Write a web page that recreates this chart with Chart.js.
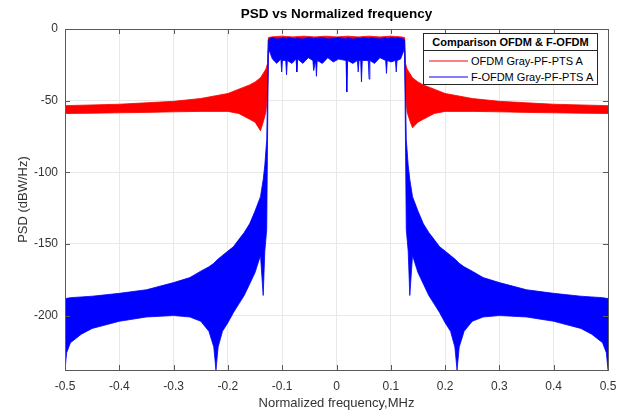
<!DOCTYPE html>
<html><head><meta charset="utf-8">
<script src="https://cdn.jsdelivr.net/npm/chart.js@4"></script>
<style>
body{margin:0;background:#fff;}
#wrap{position:relative;width:627px;height:415px;font-family:"Liberation Sans",Arial,sans-serif;}
#title{position:absolute;left:65px;width:543px;top:6px;text-align:center;font-weight:bold;font-size:13.5px;color:#000;line-height:16px;}
#legend{position:absolute;left:423px;top:33px;width:173px;height:50px;border:1px solid #262626;background:#fff;color:#000;}
#legend .lt{height:16px;line-height:16px;border-bottom:1px solid #262626;text-align:center;font-weight:bold;font-size:11px;}
#legend .row{position:relative;height:16px;line-height:16px;font-size:11px;}
#legend .row svg{position:absolute;left:5px;top:7px;}
#legend .row .tx{position:absolute;left:47px;top:0;white-space:nowrap;}
</style>
</head><body>
<div id="wrap">
<canvas id="c" width="627" height="415"></canvas>
<div id="title">PSD vs Normalized frequency</div>
<div id="legend">
  <div class="lt">Comparison OFDM &amp; F-OFDM</div>
  <div style="height:2px"></div>
  <div class="row"><svg width="39" height="2"><line x1="0" y1="1" x2="39" y2="1" stroke="#ff0000" stroke-width="1"/></svg><div class="tx">OFDM Gray-PF-PTS A</div></div>
  <div class="row"><svg width="39" height="2"><line x1="0" y1="1" x2="39" y2="1" stroke="#0000ff" stroke-width="1"/></svg><div class="tx">F-OFDM Gray-PF-PTS A</div></div>
</div>
</div>
<script>
// ---- data (envelopes of the dense PSD traces) ----
const xTicks = [-0.5,-0.4,-0.3,-0.2,-0.1,0,0.1,0.2,0.3,0.4,0.5];
const yTicks = [-200,-150,-100,-50,0];

// OFDM Gray-PF-PTS A (red)
const redFreq  = [-0.5,-0.45,-0.4,-0.35,-0.3,-0.25,-0.2,-0.18,-0.16,-0.15,-0.14,-0.135,-0.13,-0.127,-0.1255,
                  -0.12,-0.1,-0.08,-0.06,-0.04,-0.02,0,0.02,0.04,0.06,0.08,0.1,0.12,
                  0.1255,0.127,0.13,0.135,0.14,0.15,0.16,0.18,0.2,0.25,0.3,0.35,0.4,0.45,0.5];
const redUpper = [-53.5,-53,-52.5,-51.5,-50.5,-48.5,-45,-42,-39,-37,-34,-31,-28,-24,-6,
                  -5.5,-5,-5.5,-5,-5.5,-5,-5.5,-5,-5.5,-5,-5.5,-5,-5.5,
                  -6,-24,-28,-31,-34,-37,-39,-42,-45,-48.5,-50.5,-51.5,-52.5,-53,-53.5];
const redLower = [-59,-58.8,-58.5,-58.2,-57.8,-57.5,-57.5,-59,-63,-65,-71,-65,-58,-45,-14,
                  -12,-13,-12,-12,-13,-12,-12,-13,-12,-12,-13,-12,-12,
                  -14,-45,-58,-64,-69,-65,-63,-59,-57.5,-57.5,-57.8,-58.2,-58.5,-58.8,-59];

// F-OFDM Gray-PF-PTS A (blue)
const blueFreq  = [-0.5,-0.497,-0.49,-0.47,-0.45,-0.4,-0.35,-0.3,-0.27,-0.25,-0.235,-0.226,-0.222,-0.218,-0.21,-0.2,-0.19,-0.18,-0.17,-0.16,-0.15,-0.14,-0.135,-0.132,-0.1285,-0.1255,
  -0.124,-0.118,-0.110,-0.1025,-0.101,-0.0995,-0.0935,-0.092,-0.0905,-0.082,-0.0745,-0.073,-0.0715,-0.062,-0.052,-0.0435,-0.042,-0.0385,-0.037,-0.0355,-0.026,-0.016,-0.006,0.004,
  0.0175,0.019,0.0205,0.030,0.0385,0.040,0.0415,0.0445,0.046,0.0475,0.0585,0.060,0.0615,0.070,0.080,0.0905,0.092,0.0935,0.1005,0.1085,0.110,0.1115,0.118,0.124,
  0.1255,0.1285,0.132,0.135,0.14,0.15,0.16,0.17,0.18,0.19,0.2,0.21,0.218,0.222,0.226,0.235,0.25,0.27,0.3,0.35,0.4,0.45,0.47,0.49,0.497,0.5];
const blueUpper = [-188,-188,-187.5,-187,-186.5,-184.5,-182,-177,-173.5,-169,-166,-163.5,-162,-160.5,-158,-155,-152,-147,-142,-136,-127,-117,-105,-95,-77,-8,
  -7,-6,-7,-6.5,-7,-6,-6.5,-7,-6,-6.5,-7,-6,-6.5,-7,-6,-6.5,-7,-6,-7,-6.5,-6,-7,-6.5,-6,
  -7,-6.5,-6,-7,-6.5,-6,-7,-6.5,-7,-6,-6.5,-7,-6,-6.5,-7,-6,-6.5,-7,-6,-6.5,-7,-6,-6.5,-7,
  -8,-77,-95,-105,-117,-127,-136,-142,-147,-152,-155,-158,-160.5,-162,-163.5,-166,-169,-173.5,-177,-182,-184.5,-186.5,-187,-187.5,-188,-188];
const blueLower = [-238,-226,-219,-213,-209,-204,-201,-200,-201,-204,-211,-222,-238,-222,-211,-205,-198,-192,-186,-178,-170,-158,-186,-155,-140,-15,
  -15,-21,-24,-21,-30,-22,-22,-32,-22,-24,-21,-30,-21,-24,-20,-22,-29,-22,-33,-22,-24,-20,-23,-21,
  -22,-44,-22,-24,-22,-30,-22,-22,-37,-22,-22,-35,-22,-24,-20,-22,-31,-22,-23,-22,-30,-22,-21,-15,
  -15,-140,-155,-186,-158,-170,-178,-186,-192,-198,-205,-211,-222,-238,-222,-211,-204,-201,-200,-201,-204,-209,-213,-219,-226,-238];

const pts = (xs, ys) => xs.map((x, i) => ({x: x, y: ys[i]}));
const FONT = '"Liberation Sans", Arial, sans-serif';

const frame = {
  id: 'frame',
  afterDatasetsDraw(chart) {
    const {ctx, chartArea: a, scales: {x, y}} = chart;
    ctx.save();
    ctx.strokeStyle = '#5a5a5a';
    ctx.lineWidth = 1;
    ctx.beginPath();
    xTicks.forEach(v => {
      const p = Math.round(x.getPixelForValue(v)) + 0.5;
      ctx.moveTo(p, a.bottom); ctx.lineTo(p, a.bottom - 5);
      ctx.moveTo(p, a.top); ctx.lineTo(p, a.top + 5);
    });
    yTicks.forEach(v => {
      const p = Math.round(y.getPixelForValue(v)) + 0.5;
      ctx.moveTo(a.left, p); ctx.lineTo(a.left + 5, p);
      ctx.moveTo(a.right, p); ctx.lineTo(a.right - 5, p);
    });
    ctx.stroke();
    ctx.strokeRect(Math.round(a.left) + 0.5, Math.round(a.top) + 0.5, Math.round(a.right - a.left), Math.round(a.bottom - a.top));
    ctx.restore();
  }
};

new Chart(document.getElementById('c'), {
  type: 'line',
  data: {
    datasets: [
      {label: 'F-OFDM Gray-PF-PTS A', data: pts(blueFreq, blueUpper), borderColor: '#0000ff', backgroundColor: '#0000ff', borderWidth: 0.8, pointRadius: 0, fill: '+1'},
      {label: 'F-OFDM lower', data: pts(blueFreq, blueLower), borderColor: '#0000ff', backgroundColor: '#0000ff', borderWidth: 0.8, pointRadius: 0, fill: false},
      {label: 'OFDM Gray-PF-PTS A', data: pts(redFreq, redUpper), borderColor: '#ff0000', backgroundColor: '#ff0000', borderWidth: 0.8, pointRadius: 0, fill: '+1'},
      {label: 'OFDM lower', data: pts(redFreq, redLower), borderColor: '#ff0000', backgroundColor: '#ff0000', borderWidth: 0.8, pointRadius: 0, fill: false}
    ]
  },
  options: {
    responsive: false,
    animation: false,
    devicePixelRatio: 1,
    layout: {padding: {top: 29, right: 19, left: 0, bottom: 0}},
    plugins: {legend: {display: false}, title: {display: false}, tooltip: {enabled: false}},
    scales: {
      x: {
        type: 'linear', min: -0.5, max: 0.5,
        afterBuildTicks: s => { s.ticks = xTicks.map(v => ({value: v})); },
        afterFit: s => { s.height = 45; },
        border: {display: false},
        grid: {color: '#e8e8e8', drawTicks: false, lineWidth: 1},
        ticks: {padding: 9, color: '#333', font: {family: FONT, size: 12}, callback: v => String(Math.round(v * 10) / 10)},
        title: {display: true, text: 'Normalized frequency,MHz', color: '#333', font: {family: FONT, size: 13}, padding: {top: 0, bottom: 4}}
      },
      y: {
        type: 'linear', min: -238, max: 0,
        afterBuildTicks: s => { s.ticks = yTicks.map(v => ({value: v})); },
        afterFit: s => { s.width = 65; },
        border: {display: false},
        grid: {color: '#e8e8e8', drawTicks: false, lineWidth: 1},
        ticks: {padding: 7, color: '#333', font: {family: FONT, size: 12}, callback: v => String(v)},
        title: {display: true, text: 'PSD (dBW/Hz)', color: '#333', font: {family: FONT, size: 13}, padding: {top: 16, bottom: 0}}
      }
    }
  },
  plugins: [frame]
});
</script>
</body></html>
